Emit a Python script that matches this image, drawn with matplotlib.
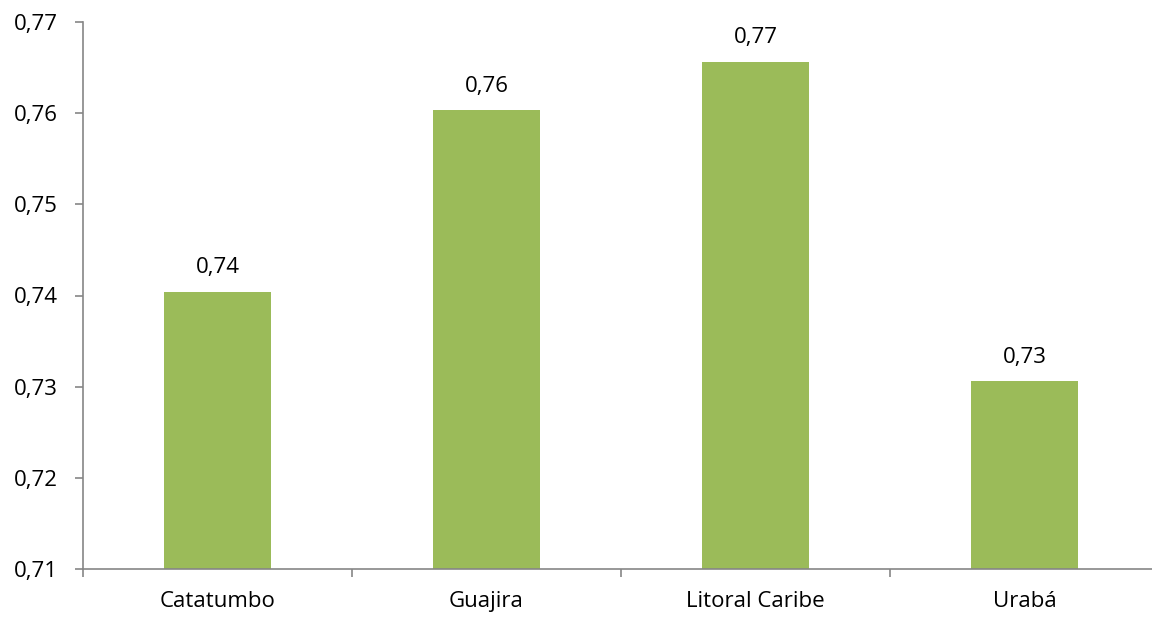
import matplotlib.pyplot as plt
import numpy as np

# datos
regiones = ['Catatumbo', 'Guajira', 'Litoral Caribe', 'Urabá']
valores = [0.7404, 0.7603, 0.7656, 0.7306]
y_ticks = [0.71, 0.72, 0.73, 0.74, 0.75, 0.76, 0.77]

plt.rcParams['font.family'] = ['Open Sans', 'DejaVu Sans']

fig = plt.figure(figsize=(11.52, 6.18), dpi=100)
ax = fig.add_axes([83/1152, 1 - 569/618, 1076/1152, 547/618])

x = np.arange(len(regiones))
ax.bar(x, valores, width=0.4, color='#9bbb59', zorder=2)

for xi, v in zip(x, valores):
    ax.text(xi, v + 0.0015, ('%.2f' % v).replace('.', ','), ha='center', va='bottom',
            fontsize=16, color='black')

ax.set_xlim(-0.5, len(regiones) - 0.5)
ax.set_ylim(0.71, 0.77)
ax.set_yticks(y_ticks)
ax.set_yticklabels([('%.2f' % t).replace('.', ',') for t in y_ticks], fontsize=16)

ax.set_xticks(x)
ax.set_xticklabels(regiones, fontsize=16)
ax.tick_params(axis='x', which='major', length=0, pad=16)
ax.set_xticks(np.arange(len(regiones) + 1) - 0.5, minor=True)
ax.tick_params(axis='x', which='minor', length=6, width=1.2, color='#868686')
ax.tick_params(axis='y', length=6, width=1.2, color='#868686', pad=12)

for s in ['top', 'right']:
    ax.spines[s].set_visible(False)
for s in ['left', 'bottom']:
    ax.spines[s].set_color('#868686')
    ax.spines[s].set_linewidth(1.2)

fig.savefig('out.png', dpi=100)
